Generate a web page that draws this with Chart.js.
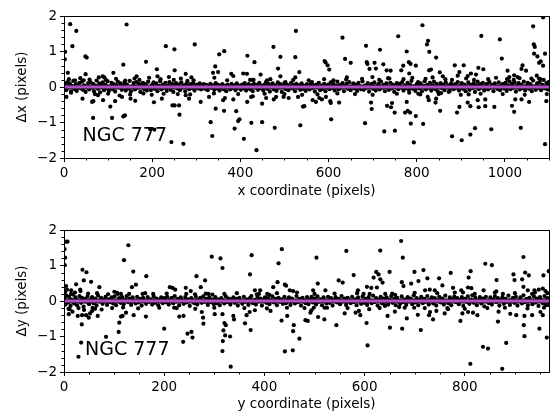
<!DOCTYPE html>
<html>
<head>
<meta charset="utf-8">
<script src="https://cdn.jsdelivr.net/npm/chart.js@4/dist/chart.umd.min.js"></script>
<style>
  html, body { margin: 0; padding: 0; background: #fff; }
  #wrap { position: relative; width: 553px; height: 414px; }
  canvas { position: absolute; left: 0; }
  #cTop { top: 0; }
  #cBot { top: 207px; }
</style>
</head>
<body>
<div id="wrap">
  <canvas id="cTop" width="553" height="207"></canvas>
  <canvas id="cBot" width="553" height="207"></canvas>
</div>
<script>
// ---- tick positions ----
const topXTicks = [0, 200, 400, 600, 800, 1000];
const topXMinor = [50, 100, 150, 250, 300, 350, 450, 500, 550, 650, 700, 750, 850, 900, 950, 1050, 1100];
const botXTicks = [0, 200, 400, 600, 800];
const botXMinor = [50, 100, 150, 250, 300, 350, 450, 500, 550, 650, 700, 750, 850, 900, 950];
const yTicks = [-2, -1, 0, 1, 2];
const yMinor = [-1.8, -1.6, -1.4, -1.2, -0.8, -0.6, -0.4, -0.2, 0.2, 0.4, 0.6, 0.8, 1.2, 1.4, 1.6, 1.8];

// ---- zero lines ----
const zeroTop = [[0, 0], [1100, 0]];
const zeroBot = [[0, 0], [968, 0]];

// ---- top panel: x coordinate vs dx ----
const topOutliers = [
  [2.6,0.99],[2,0.78],[14,1.77],[28,1.58],[19,1.15],[48.6,0.86],[51.5,0.83],[142,1.76],[134.5,0.63],[186,0.71],
  [231,1.15],[250.5,1.06],[251,0.47],[210.6,0.5],[112,0.4],[8.7,0.4],[49,0.36],[87.7,0.3],[91.5,0.27],[164.6,0.3],
  [212,0.3],[44.8,0.19],
  [5.6,-0.28],[16,-0.16],[42,-0.33],[63.7,-0.42],[66.6,-0.4],[88.5,-0.37],[77,-0.23],[105,-0.55],[116,-0.4],
  [131.5,-0.28],[151,-0.33],[161.6,-0.39],[204,-0.43],[222,-0.33],[66,-0.87],[109,-0.87],[134.5,-0.83],[138.3,-0.8],
  [195.5,-1.19],[205,-1.2],[243.6,-1.55],[270.8,-1.6],[246,-0.52],[251,-0.52],[261,-0.52],[262,-0.78],
  [296.5,1.2],[352,0.92],[363.4,1.01],[343,0.58],[338,0.4],[349.5,0.42],[276,0.37],[289,0.27],[280,0.17],[341,0.26],
  [379.4,0.37],[384,0.31],[416,0.88],[432,0.7],[406.6,0.38],[415,0.37],[422,0.2],[428,0.2],[446,0.35],[475,1.13],
  [490.8,0.85],[485.5,0.52],[526,1.58],[524.6,0.84],[490.8,0.3],[524.6,0.27],[533.7,0.42],[460.5,0.19],[502,0.14],
  [283.6,-0.33],[286,-0.21],[310,-0.42],[329,-0.28],[344,-0.61],[363,-0.67],[332.6,-0.99],[336.3,-1.38],[361,-0.37],
  [365,-0.31],[384,-0.35],[390.6,-0.68],[395,-0.96],[398,-0.91],[387,-1.17],[408,-1.46],[425,-1.01],[415.5,-0.42],
  [424.5,-0.28],[428.3,-0.26],[436.5,-1.78],[449.3,-0.99],[449.3,-0.47],[458.4,-0.31],[478,-1.15],[475.7,-0.35],
  [481,-0.28],[498,-0.28],[509.6,-0.31],[530.8,-0.28],[542,-0.55],[536,-1.08],
  [631.6,1.39],[685,1.16],[716.7,1.05],[758,1.43],[813,1.74],[825.7,1.3],[823.3,1.2],[828.5,0.99],[777.3,1.0],
  [637.5,0.79],[650.3,0.68],[591,0.73],[593.3,0.69],[597.8,0.61],[601.6,0.49],[686.7,0.7],[688.2,0.65],[704.3,0.68],
  [707.4,0.52],[692.9,0.51],[724.2,0.64],[731.8,0.47],[740.8,0.46],[769.4,0.6],[765,0.47],[782.2,0.7],[786,0.65],
  [798,0.6],[783,0.38],[828,0.47],[832.4,0.49],[641.5,0.27],[699.5,0.28],[738,0.24],[562.4,0.14],[611.2,0.19],
  [606,-0.91],[682.8,-1.02],[726.3,-1.25],[750.5,-1.23],[793.4,-1.56],[786.6,-1.03],[814.5,-1.04],[696.4,-0.44],
  [697.9,-0.62],[732.7,-0.53],[741.8,-0.57],[744,-0.45],[750,-0.72],[777.3,-0.42],[773.5,-0.72],[779.6,-0.67],
  [785,-0.72],[798,-0.82],[564,-0.37],[571.4,-0.42],[579,-0.31],[585,-0.35],[594,-0.28],[604,-0.4],[605,-0.45],
  [624,-0.44],[545,-0.54],[803.5,-0.19],[783,-0.16],
  [946.5,1.44],[988.5,1.34],[993,0.8],[1086.6,1.96],[1064,1.71],[1065.5,1.2],[1067.8,1.13],[1066.2,0.94],[1073.7,0.86],
  [1077.5,0.68],[1081.2,0.72],[1086.6,0.6],[1091,0.94],[844,0.83],[852.4,0.41],[859.2,0.3],[886.3,0.61],[896.8,0.42],
  [906.6,0.61],[893,0.32],[915.6,0.31],[923,0.38],[934.5,0.35],[939.8,0.54],[951,0.5],[1006,0.46],[1010,0.28],
  [1021,0.33],[1028.6,0.28],[1040,0.61],[1037.6,0.51],[1048,0.46],[1072.3,0.32],[1077.5,0.24],[1099,0.14],
  [880.2,-1.39],[902,-1.5],[921.6,-1.34],[932.2,-1.16],[969.1,-1.19],[1036,-1.15],[1091,-1.61],[853.1,-0.67],
  [842.6,-0.44],[844,-0.33],[827.5,-0.37],[825,-0.28],[891.5,-0.72],[896.8,-0.56],[915.6,-0.44],[921.6,-0.54],
  [917.8,-0.21],[938.3,-0.37],[940.5,-0.57],[955.5,-0.54],[955.5,-0.35],[976,-0.56],[1016,-0.53],[1023.5,-0.35],
  [1021,-0.7],[1037.6,-0.35],[1054.9,-0.42],[1094,-0.4],[872.7,-0.14],[855.3,-0.17]
];
const topMid = [
  [11,0.22],[25,0.19],[37,0.25],[58,0.21],[70,-0.2],[79,0.27],[95,0.2],[100,-0.19],[118,0.23],[126,-0.24],
  [139,0.18],[150,-0.21],[160,0.24],[171,0.2],[180,-0.18],[193,0.26],[199,-0.22],[219,0.22],[226,-0.19],[238,0.28],
  [249,0.2],[258,-0.2],[265,0.24],[276,-0.23],[294,0.19],[340,-0.18],[370,0.19],[395,-0.2],[430,0.2],[455,-0.19],
  [468,0.22],[500,-0.2],[520,0.2],[540,-0.22],[555,0.19],[575,-0.21],[590,0.22],[620,-0.18],[640,0.21],[660,-0.2],
  [676,0.23],[700,-0.22],[715,0.2],[735,0.25],[755,-0.19],[770,0.22],[790,0.26],[808,-0.21],[820,0.23],[836,0.27],
  [850,-0.2],[865,0.22],[880,0.2],[900,-0.22],[912,0.24],[930,0.2],[945,-0.19],[962,0.22],[980,0.26],[995,-0.2],
  [1005,0.22],[1020,0.2],[1033,0.25],[1045,-0.22],[1060,0.24],[1080,0.22],[1095,-0.2]
];
const topBand = [
  [2,0.06],[5,-0.09],[7,0.13],[10,-0.02],[13,0.1],[16,-0.13],[18,0.03],[21,0.17],[24,-0.06],[27,0.08],[29,-0.11],
  [32,0.02],[35,0.12],[38,-0.04],[41,0.15],[43,-0.08],[46,0.05],[49,-0.14],[52,0.01],[55,0.11],[57,-0.07],[60,0.14],
  [63,-0.02],[66,0.09],[68,-0.12],[71,0.04],[74,0.18],[77,-0.05],[80,0.1],[82,-0.15],[85,0.03],[88,0.13],[91,-0.09],
  [94,0.06],[96,-0.03],[99,0.16],
  [102,-0.11],[105,0.02],[108,0.12],[110,-0.06],[113,0.08],[116,-0.13],[119,0.05],[122,0.15],[125,-0.01],[128,0.1],
  [131,-0.08],[134,0.03],[137,0.13],[140,-0.1],[143,0.07],[146,-0.04],[149,0.17],[152,-0.12],[155,0.01],[158,0.11],
  [161,-0.07],[164,0.14],[167,-0.02],[170,0.09],[173,-0.14],[176,0.04],[179,0.12],[182,-0.06],[185,0.08],[188,-0.1],
  [191,0.15],[194,0.0],[197,-0.09],
  [200,0.06],[203,0.13],[206,-0.05],[209,0.1],[212,-0.12],[215,0.03],[218,0.16],[221,-0.07],[224,0.07],[227,-0.02],
  [230,0.12],[233,-0.11],[236,0.04],[239,0.14],[242,-0.08],[245,0.09],[248,-0.14],[251,0.02],[254,0.11],[257,-0.04],
  [260,0.07],[263,-0.09],[266,0.13],[269,-0.01],[272,0.05],[275,-0.12],[278,0.1],[281,0.02],[284,-0.06],[287,0.08],
  [290,-0.03],[293,0.12],[296,-0.1],[299,0.04],
  [302,0.07],[305,-0.04],[308,0.1],[311,-0.07],[314,0.02],[317,0.08],[320,-0.05],[323,0.06],[326,-0.09],[329,0.03],
  [332,0.09],[335,-0.02],[338,0.05],[341,-0.08],[344,0.11],[347,-0.04],[350,0.06],[353,-0.1],[356,0.02],[359,0.08],
  [362,-0.06],[365,0.04],[368,-0.12],[371,0.07],[374,0.0],[377,-0.07],[380,0.09],[383,-0.03],[386,0.05],[389,-0.09],
  [392,0.1],[395,-0.02],[398,0.04],
  [401,-0.08],[404,0.07],[407,-0.04],[410,0.11],[413,-0.1],[416,0.03],[419,0.08],[422,-0.06],[425,0.05],[428,-0.12],
  [431,0.09],[434,-0.01],[437,0.06],[440,-0.08],[443,0.12],[446,-0.03],[449,0.04],[452,-0.1],[455,0.07],[458,0.14],
  [461,-0.05],[464,0.09],[467,-0.13],[470,0.02],[473,0.1],[476,-0.07],[479,0.05],[482,-0.11],[485,0.13],[488,-0.02],
  [491,0.08],[494,-0.14],[497,0.03],
  [500,0.11],[503,-0.06],[506,0.07],[509,-0.09],[512,0.02],[515,0.12],[518,-0.04],[521,0.06],[524,-0.12],[527,0.09],
  [530,-0.02],[533,0.05],[536,-0.08],[539,0.1],[542,-0.05],[545,0.03],[548,-0.11],[551,0.08],[554,0.0],[557,-0.07],
  [560,0.1],[563,-0.03],[566,0.05],[569,-0.13],[572,0.07],[575,-0.01],[578,0.12],[581,-0.09],[584,0.04],[587,-0.05],
  [590,0.09],[593,-0.12],[596,0.02],[599,0.07],
  [602,-0.06],[605,0.13],[608,-0.03],[611,0.08],[614,-0.1],[617,0.04],[620,0.15],[623,-0.07],[626,0.06],[629,-0.02],
  [632,0.11],[635,-0.12],[638,0.03],[641,0.09],[644,-0.05],[647,0.14],[650,-0.09],[653,0.01],[656,0.1],[659,-0.04],
  [662,0.07],[665,-0.11],[668,0.12],[671,0.02],[674,-0.06],[677,0.16],[680,-0.08],[683,0.05],[686,-0.02],[689,0.11],
  [692,-0.13],[695,0.04],[698,0.09],
  [701,-0.05],[704,0.13],[707,-0.1],[710,0.03],[713,0.08],[716,-0.07],[719,0.15],[722,-0.02],[725,0.06],[728,-0.12],
  [731,0.1],[734,0.01],[737,-0.08],[740,0.12],[743,-0.04],[746,0.07],[749,-0.14],[752,0.03],[755,0.11],[758,-0.06],
  [761,0.09],[764,-0.01],[767,0.14],[770,-0.1],[773,0.05],[776,-0.03],[779,0.12],[782,-0.08],[785,0.06],[788,0.17],
  [791,-0.05],[794,0.02],[797,-0.11],
  [800,0.08],[803,0.14],[806,-0.04],[809,0.1],[812,-0.12],[815,0.03],[818,0.16],[821,-0.07],[824,0.06],[827,-0.02],
  [830,0.12],[833,-0.1],[836,0.05],[839,0.15],[842,-0.06],[845,0.09],[848,-0.13],[851,0.02],[854,0.11],[857,-0.03],
  [860,0.07],[863,-0.09],[866,0.13],[869,0.0],[872,0.05],[875,-0.11],[878,0.1],[881,0.03],[884,-0.06],[887,0.08],
  [890,-0.02],[893,0.14],[896,-0.1],
  [899,0.04],[902,0.11],[905,-0.05],[908,0.07],[911,-0.12],[914,0.02],[917,0.13],[920,-0.08],[923,0.06],[926,-0.03],
  [929,0.1],[932,-0.14],[935,0.05],[938,0.15],[941,-0.06],[944,0.08],[947,-0.01],[950,0.12],[953,-0.1],[956,0.03],
  [959,0.09],[962,-0.07],[965,0.14],[968,-0.02],[971,0.06],[974,-0.12],[977,0.1],[980,0.01],[983,-0.05],[986,0.13],
  [989,-0.09],[992,0.04],[995,0.08],[998,-0.04],
  [1001,0.12],[1004,-0.11],[1007,0.05],[1010,0.16],[1013,-0.06],[1016,0.09],[1019,-0.02],[1022,0.13],[1025,-0.13],
  [1028,0.03],[1031,0.11],[1034,-0.07],[1037,0.07],[1040,-0.03],[1043,0.15],[1046,-0.1],[1049,0.04],[1052,0.12],
  [1055,-0.05],[1058,0.08],[1061,-0.12],[1064,0.18],[1067,0.01],[1070,-0.08],[1073,0.1],[1076,-0.02],[1079,0.14],
  [1082,-0.09],[1085,0.06],[1088,0.2],[1091,-0.04],[1094,0.11],[1097,-0.07],[1099,0.05]
];

// ---- bottom panel: y coordinate vs dy ----
const botOutliers = [
  [3,1.67],[7,1.67],[1,1.46],[2.3,1.22],[1.6,1.01],[128.4,1.57],[119.8,1.15],[138.3,0.83],[135.6,0.39],[143.6,0.46],
  [164.2,0.7],[36.8,0.88],[44.8,0.81],[39.5,0.58],[24.2,0.47],[54.1,0.54],[32.2,0.32],[14.3,0.3],[70.6,0.39],
  [100.5,0.26],[107.2,0.2],[113.7,0.2],[211.3,0.39],[216.6,0.37],[221.9,0.32],[156.9,0.2],[4.3,0.42],
  [28.9,-1.57],[34.2,-1.17],[83.9,-1.01],[109.1,-0.87],[110.4,-0.61],[113.7,-0.44],[200,-0.78],[139,-0.4],
  [163.5,-0.44],[230,-0.44],[35.5,-0.66],[27.5,-0.42],[36.1,-0.4],[44.1,-0.4],[52,-0.35],[67.3,-0.42],[49.4,-0.47],
  [9.6,-0.37],[11,-0.23],[62,-0.22],[56,-0.28],[123.7,-0.33],[117,-0.42],[220,-0.19],
  [294.9,1.25],[312.3,1.2],[316.3,0.93],[374.5,1.29],[371.2,0.75],[434.8,1.46],[428.2,1.06],[264.4,0.7],[273,0.39],
  [281.6,0.58],[243,0.37],[261.6,0.19],[253,0.28],[288.3,0.2],[296.2,0.18],[381,0.3],[391.5,0.3],[389,0.2],
  [426.2,0.53],[417.6,0.39],[440.8,0.46],[443.4,0.43],[450.7,0.3],[457.3,0.28],[405.6,0.2],[410,0.17],
  [238.5,-0.42],[246.5,-0.92],[254.4,-0.87],[256.4,-1.03],[237.8,-1.15],[275,-0.31],[277.6,-0.47],[278.3,-0.64],
  [300.8,-0.37],[316.3,-0.37],[320.2,-0.62],[322.9,-0.68],[318.2,-0.83],[321.6,-0.97],[317,-1.13],[316.3,-1.41],
  [331.5,-1.0],[332.7,-1.85],[338,-0.42],[339.3,-0.52],[361.2,-0.63],[364.5,-0.4],[370.5,-0.31],[372.5,-0.82],
  [381,-0.26],[412.2,-0.28],[434.2,-0.55],[445.5,-0.42],[440.8,-1.42],[456.6,-1.39],[458.6,-0.68],[457.3,-0.85],
  [469.8,-1.06],[481.8,-0.54],
  [503.9,1.22],[563.5,1.41],[631.2,1.42],[672.9,1.69],[676.2,1.22],[578.1,0.73],[548.2,0.58],[556.2,0.52],
  [623.2,0.82],[627.8,0.75],[617.9,0.66],[631.2,0.61],[635.8,0.52],[649.8,0.82],[613.3,0.37],[604.6,0.4],
  [624.5,0.38],[674.3,0.53],[677.6,0.42],[692.9,0.49],[699.5,0.82],[707.4,0.56],[717.4,0.87],[725.3,0.64],
  [720.7,0.3],[506.5,0.49],[497.2,0.3],[521.7,0.3],[586.7,0.3],[598,0.2],[641.2,0.2],[661,0.17],
  [486.6,-0.56],[491.9,-0.33],[493.9,-0.26],[498.5,-0.19],[507.1,-0.45],[519.7,-0.52],[543.6,-0.68],[525,-0.19],
  [560.2,-0.35],[582,-0.33],[588.6,-0.28],[591.3,-0.4],[603.9,-0.62],[605.9,-1.25],[609.2,-0.23],[640.6,-0.14],
  [645.8,-0.42],[650.5,-0.75],[660.4,-0.3],[675,-0.78],[669,-0.17],[684.2,-0.49],[698.9,-0.19],[706.2,-0.39],
  [712.2,-0.82],[728.6,-0.4],[730.6,-0.31],
  [840.8,1.05],[854,1.01],[917,1.24],[897.1,0.75],[920.4,0.8],[927.7,0.72],[899.2,0.59],[914.4,0.61],[956.9,0.72],
  [967.5,0.84],[807.6,0.66],[811.6,0.84],[771.8,0.79],[748.6,0.64],[755.2,0.44],[863.4,0.59],[730,0.32],[740,0.3],
  [776.4,0.37],[793,0.3],[796.4,0.24],[806.3,0.38],[813,0.36],[837.5,0.3],[862.7,0.27],[876,0.2],[917,0.4],
  [925.7,0.3],[934.3,0.2],[939,0.3],[947.6,0.32],[955.6,0.35],[960.9,0.28],
  [811,-1.77],[836.2,-1.29],[846.2,-1.34],[874.6,-1.91],[882.6,-1.18],[919.1,-0.99],[948.9,-0.78],[963.5,-1.03],
  [736.6,-0.52],[743.3,-0.28],[759.8,-0.35],[766.5,-0.23],[791.2,-0.56],[795.2,-0.35],[806.5,-0.31],[816.3,-0.33],
  [825,-0.4],[866.1,-0.58],[867.4,-0.3],[890.7,-0.36],[902.6,-0.4],[917.6,-0.68],[919,-0.42],[934.3,-0.4],
  [950.9,-0.31],[955.6,-0.4],[962.2,-0.12]
];
const botMid = [
  [2,0.25],[6,0.32],[9,-0.22],[14,0.2],[17,-0.3],[22,0.24],[29,-0.2],[33,0.28],[40,-0.25],[48,0.21],[57,-0.19],
  [66,0.22],[75,-0.24],[88,0.19],[96,-0.2],[106,0.23],[118,-0.18],[130,0.2],[148,-0.21],[162,0.22],[178,0.2],
  [190,-0.19],[205,0.21],[225,-0.2],[244,0.2],[262,-0.22],[283,0.21],[300,-0.19],[320,0.2],[345,0.22],[360,-0.2],
  [385,0.19],[405,-0.21],[425,0.22],[445,-0.19],[465,0.24],[480,-0.2],[500,0.2],[520,-0.19],[540,0.21],[566,-0.2],
  [585,0.22],[610,0.2],[630,-0.2],[655,0.21],[680,-0.19],[700,0.23],[720,-0.2],[745,0.22],[765,-0.2],[780,0.24],
  [800,-0.22],[820,0.2],[845,-0.2],[860,0.24],[880,-0.19],[900,0.22],[925,-0.21],[940,0.24],[958,-0.19],[965,0.22]
];
const botBand = [
  [1,0.08],[3,-0.1],[5,0.15],[8,-0.04],[10,0.12],[13,-0.14],[15,0.04],[18,0.18],[20,-0.07],[23,0.1],[26,-0.12],
  [28,0.02],[31,0.14],[34,-0.05],[36,0.09],[39,-0.16],[42,0.06],[45,-0.02],[47,0.13],[50,-0.09],[53,0.03],[56,0.11],
  [59,-0.06],[62,0.07],[65,-0.13],[68,0.15],[71,-0.01],[74,0.09],[77,-0.08],[80,0.04],[83,0.12],[86,-0.11],[89,0.05],
  [92,-0.03],[95,0.1],[98,-0.07],
  [101,0.13],[104,-0.12],[107,0.02],[110,0.08],[113,-0.05],[116,0.11],[119,-0.09],[122,0.04],[125,0.14],[128,-0.03],
  [131,0.07],[134,-0.11],[137,0.1],[140,0.0],[143,-0.07],[146,0.12],[149,-0.04],[152,0.06],[155,-0.13],[158,0.09],
  [161,0.02],[164,-0.08],[167,0.11],[170,-0.02],[173,0.05],[176,-0.1],[179,0.13],[182,-0.05],[185,0.07],[188,-0.12],
  [191,0.03],[194,0.1],[197,-0.06],
  [200,0.08],[203,-0.03],[206,0.12],[209,-0.1],[212,0.04],[215,0.09],[218,-0.07],[221,0.14],[224,-0.01],[227,0.06],
  [230,-0.12],[233,0.1],[236,0.02],[239,-0.08],[242,0.11],[245,-0.04],[248,0.05],[251,-0.14],[254,0.08],[257,0.0],
  [260,-0.06],[263,0.12],[266,-0.1],[269,0.03],[272,0.09],[275,-0.05],[278,0.13],[281,-0.02],[284,0.06],[287,-0.11],
  [290,0.1],[293,-0.03],[296,0.04],[299,-0.09],
  [302,0.11],[305,-0.06],[308,0.05],[311,-0.12],[314,0.08],[317,0.01],[320,-0.07],[323,0.13],[326,-0.03],[329,0.07],
  [332,-0.1],[335,0.04],[338,0.1],[341,-0.05],[344,0.06],[347,-0.13],[350,0.09],[353,0.0],[356,-0.08],[359,0.12],
  [362,-0.02],[365,0.05],[368,-0.11],[371,0.08],[374,0.14],[377,-0.06],[380,0.03],[383,-0.1],[386,0.11],[389,-0.01],
  [392,0.07],[395,-0.13],[398,0.04],
  [401,0.1],[404,-0.05],[407,0.08],[410,-0.09],[413,0.02],[416,0.13],[419,-0.04],[422,0.06],[425,-0.12],[428,0.09],
  [431,-0.02],[434,0.05],[437,-0.08],[440,0.12],[443,-0.06],[446,0.03],[449,0.1],[452,-0.11],[455,0.07],[458,0.0],
  [461,-0.07],[464,0.14],[467,-0.03],[470,0.06],[473,-0.13],[476,0.09],[479,0.02],[482,-0.06],[485,0.11],[488,-0.09],
  [491,0.04],[494,0.12],[497,-0.04],
  [500,0.07],[503,-0.1],[506,0.13],[509,-0.02],[512,0.05],[515,-0.12],[518,0.1],[521,0.01],[524,-0.07],[527,0.12],
  [530,-0.05],[533,0.08],[536,-0.13],[539,0.03],[542,0.11],[545,-0.04],[548,0.06],[551,-0.09],[554,0.14],[557,-0.01],
  [560,0.07],[563,-0.11],[566,0.09],[569,0.02],[572,-0.06],[575,0.12],[578,-0.03],[581,0.05],[584,-0.12],[587,0.1],
  [590,0.0],[593,-0.08],[596,0.13],[599,-0.05],
  [602,0.06],[605,-0.11],[608,0.11],[611,0.02],[614,-0.06],[617,0.15],[620,-0.03],[623,0.08],[626,-0.13],[629,0.04],
  [632,0.12],[635,-0.07],[638,0.07],[641,-0.02],[644,0.1],[647,-0.1],[650,0.03],[653,0.14],[656,-0.05],[659,0.06],
  [662,-0.12],[665,0.09],[668,0.01],[671,-0.08],[674,0.13],[677,-0.03],[680,0.05],[683,-0.11],[686,0.11],[689,-0.01],
  [692,0.07],[695,-0.09],[698,0.16],
  [701,-0.04],[704,0.08],[707,-0.12],[710,0.03],[713,0.12],[716,-0.06],[719,0.06],[722,-0.02],[725,0.14],[728,-0.1],
  [731,0.04],[734,0.1],[737,-0.07],[740,0.08],[743,-0.13],[746,0.02],[749,0.12],[752,-0.04],[755,0.07],[758,-0.1],
  [761,0.15],[764,0.0],[767,-0.06],[770,0.1],[773,-0.12],[776,0.05],[779,0.13],[782,-0.03],[785,0.08],[788,-0.09],
  [791,0.03],[794,0.11],[797,-0.14],
  [800,0.06],[803,-0.02],[806,0.13],[809,-0.08],[812,0.04],[815,0.16],[818,-0.05],[821,0.09],[824,-0.12],[827,0.02],
  [830,0.11],[833,-0.07],[836,0.07],[839,-0.15],[842,0.12],[845,0.0],[848,-0.06],[851,0.1],[854,-0.1],[857,0.05],
  [860,0.14],[863,-0.03],[866,0.08],[869,-0.13],[872,0.03],[875,0.11],[878,-0.08],[881,0.06],[884,-0.02],[887,0.15],
  [890,-0.11],[893,0.04],[896,0.09],
  [899,-0.05],[902,0.12],[905,-0.13],[908,0.02],[911,0.1],[914,-0.07],[917,0.16],[920,-0.03],[923,0.06],[926,-0.12],
  [929,0.09],[932,0.01],[935,-0.09],[938,0.13],[941,-0.04],[944,0.07],[947,-0.14],[950,0.11],[953,0.03],[956,-0.07],
  [959,0.14],[962,-0.02],[965,0.08],[967,-0.11]
];

const PURPLE = '#b24fc8';
const FONT = 'DejaVu Sans';

function pts(list) {
  return list.map(([x, y]) => ({ x, y }));
}

function minusLabel(v) {
  return v < 0 ? '\u2212' + Math.abs(v) : String(v);
}

// frame, minor ticks and the NGC label
const decor = {
  id: 'decor',
  afterDraw(chart, args, opts) {
    const { ctx, chartArea: a, scales: { x, y } } = chart;
    ctx.save();
    ctx.strokeStyle = '#000';
    ctx.lineWidth = 1;
    ctx.strokeRect(Math.round(a.left) + 0.5, Math.round(a.top) + 0.5,
      Math.round(a.right - a.left), Math.round(a.bottom - a.top));
    ctx.beginPath();
    opts.xMinor.forEach(v => {
      const px = Math.round(x.getPixelForValue(v)) + 0.5;
      ctx.moveTo(px, a.bottom);
      ctx.lineTo(px, a.bottom + 2.5);
    });
    opts.yMinor.forEach(v => {
      const py = Math.round(y.getPixelForValue(v)) + 0.5;
      ctx.moveTo(a.left, py);
      ctx.lineTo(a.left - 2.5, py);
    });
    ctx.stroke();
    ctx.fillStyle = '#000';
    ctx.font = '19px "' + FONT + '"';
    ctx.textBaseline = 'alphabetic';
    ctx.fillText(opts.label, x.getPixelForValue(opts.labelAt[0]), y.getPixelForValue(opts.labelAt[1]));
    ctx.restore();
  }
};

function makePanel(canvasId, cfg) {
  const tickFont = { family: FONT, size: 13.5 };
  new Chart(document.getElementById(canvasId), {
    type: 'scatter',
    data: {
      datasets: [
        { type: 'line', data: pts(cfg.zero), borderColor: PURPLE, borderWidth: 3, pointRadius: 0, order: 0 },
        { type: 'line', data: pts(cfg.zero), borderColor: '#000', borderWidth: 5, pointRadius: 0, order: 1 },
        { data: pts(cfg.points), backgroundColor: '#000', borderWidth: 0, pointRadius: 2.1, order: 2 }
      ]
    },
    options: {
      responsive: false,
      animation: false,
      devicePixelRatio: 1,
      layout: { padding: { top: cfg.padTop, right: 2, left: 0, bottom: 0 } },
      plugins: {
        legend: { display: false },
        tooltip: { enabled: false },
        decor: { xMinor: cfg.xMinor, yMinor: yMinor, label: 'NGC 777', labelAt: cfg.labelAt }
      },
      scales: {
        x: {
          type: 'linear', min: 0, max: cfg.xMax,
          afterBuildTicks: s => { s.ticks = cfg.xTicks.map(v => ({ value: v })); },
          afterFit: s => { s.height = cfg.xAxisH; },
          ticks: { color: '#000', font: tickFont, padding: 3, maxRotation: 0, callback: v => String(v) },
          grid: { drawOnChartArea: false, drawTicks: true, tickLength: 4, tickColor: '#000' },
          border: { display: false },
          title: { display: true, text: cfg.xTitle, color: '#000', font: tickFont, padding: { top: 0, bottom: cfg.titlePad } }
        },
        y: {
          type: 'linear', min: -2, max: 2,
          afterBuildTicks: s => { s.ticks = yTicks.map(v => ({ value: v })); },
          afterFit: s => { s.width = 64; },
          ticks: { color: '#000', font: tickFont, padding: 3, callback: minusLabel },
          grid: { drawOnChartArea: false, drawTicks: true, tickLength: 4, tickColor: '#000' },
          border: { display: false },
          title: { display: true, text: cfg.yTitle, color: '#000', font: tickFont, padding: { top: 14, bottom: 0 } }
        }
      }
    },
    plugins: [decor]
  });
}

makePanel('cTop', {
  zero: zeroTop, points: [...topBand, ...topMid, ...topOutliers],
  xMax: 1100, xTicks: topXTicks, xMinor: topXMinor, xAxisH: 49, padTop: 16, titlePad: 7,
  xTitle: 'x coordinate (pixels)', yTitle: '\u0394x (pixels)', labelAt: [42, -1.52]
});
makePanel('cBot', {
  zero: zeroBot, points: [...botBand, ...botMid, ...botOutliers],
  xMax: 968, xTicks: botXTicks, xMinor: botXMinor, xAxisH: 42, padTop: 23, titlePad: 1,
  xTitle: 'y coordinate (pixels)', yTitle: '\u0394y (pixels)', labelAt: [42, -1.52]
});
</script>
</body>
</html>
